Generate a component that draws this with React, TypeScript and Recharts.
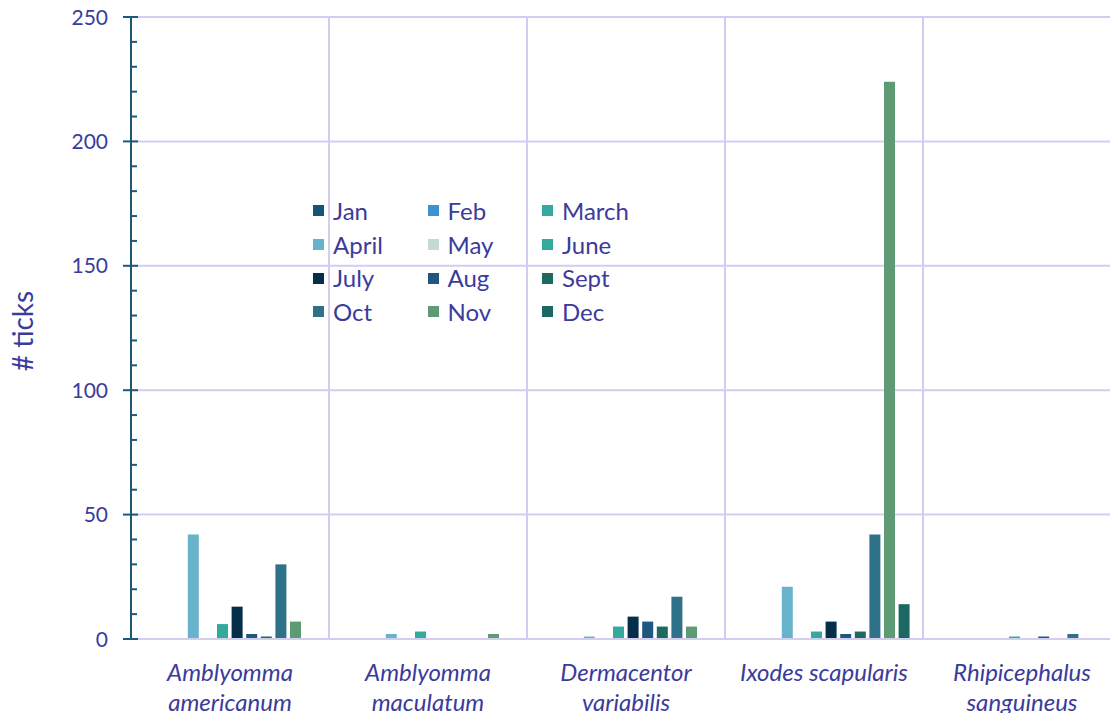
import { Bar, BarChart, CartesianGrid, Legend, XAxis, YAxis } from "recharts"

const species = [
  "Amblyomma americanum",
  "Amblyomma maculatum",
  "Dermacentor variabilis",
  "Ixodes scapularis",
  "Rhipicephalus sanguineus",
]

const months = ["Jan", "Feb", "March", "April", "May", "June", "July", "Aug", "Sept", "Oct", "Nov", "Dec"]

const monthColors = [
  "#145475", "#3a93cf", "#35a99f", "#68b3cb", "#c3dbd0", "#34aa9e",
  "#052f48", "#1f5780", "#1e6a5f", "#2e7189", "#5e9b75", "#1d6862",
]

// counts per species, Jan..Dec
const americanum = [0, 0, 0, 42, 0, 6, 13, 2, 1, 30, 7, 0]
const maculatum = [0, 0, 0, 2, 0, 3, 0, 0, 0, 0, 2, 0]
const variabilis = [0, 0, 0, 1, 0, 5, 9, 7, 5, 17, 5, 0]
const scapularis = [0, 0, 0, 21, 0, 3, 7, 2, 3, 42, 224, 14]
const sanguineus = [0, 0, 0, 0, 0, 1, 0, 1, 0, 2, 0, 0]

const yMax = 250
const yTicks = [0, 10, 20, 30, 40, 50, 60, 70, 80, 90, 100, 110, 120, 130, 140, 150, 160, 170, 180, 190, 200, 210, 220, 230, 240, 250]
const gridValues = [50, 100, 150, 200, 250]

const counts = [americanum, maculatum, variabilis, scapularis, sanguineus]

const data = species.map((name, i) => {
  const row: Record<string, string | number> = { name }
  months.forEach((m, j) => {
    row[m] = counts[i][j]
  })
  return row
})

const textColor = "#3b3b9c"
const axisColor = "#1f5877"
const gridColor = "#d3cdef"
const font = "Lato, 'Open Sans', sans-serif"

const YTick = ({ x, y, payload }: any) => {
  const v = payload.value
  if (v % 50 !== 0) {
    return <line x1={x} x2={x + 6} y1={y} y2={y} stroke={axisColor} strokeWidth={2} />
  }
  return (
    <g>
      <line x1={x - 8} x2={x + 7} y1={y} y2={y} stroke={axisColor} strokeWidth={2} />
      <text x={x - 23} y={y} dy="0.36em" textAnchor="end" fill={textColor} fontSize={21} fontFamily={font}>
        {v}
      </text>
    </g>
  )
}

// short names fit on one line, longer ones wrap at the space
const XTick = ({ x, y, payload }: any) => {
  const label: string = payload.value
  const lines = label.length < 18 ? [label] : label.split(" ")
  return (
    <text x={x} y={y} textAnchor="middle" fill={textColor} fontSize={24} fontStyle="italic" fontFamily={font}>
      {lines.map((l, i) => (
        <tspan key={l} x={x} dy={i === 0 ? 42 : 30}>{l}</tspan>
      ))}
    </text>
  )
}

const YTitle = ({ viewBox }: any) => {
  const cx = viewBox.x + 23
  const cy = viewBox.y + viewBox.height / 2 + 3
  return (
    <text x={cx} y={cy} transform={`rotate(-90, ${cx}, ${cy})`} textAnchor="middle" dy="0.35em"
      fill={textColor} fontSize={28} fontFamily={font}>
      # ticks
    </text>
  )
}

const LegendGrid = ({ payload }: any) => {
  const items = [...(payload || [])].sort((a: any, b: any) => months.indexOf(a.value) - months.indexOf(b.value))
  return (
    <div style={{ display: "grid", gridTemplateColumns: "repeat(3, 114.5px)", fontFamily: font }}>
      {items.map((item: any) => (
        <div key={item.value} style={{ display: "flex", alignItems: "center", height: 33.7 }}>
          <span style={{ width: 11, height: 11, background: item.color, marginRight: 9, flexShrink: 0 }} />
          <span style={{ color: textColor, fontSize: 24, lineHeight: "24px" }}>{item.value}</span>
        </div>
      ))}
    </div>
  )
}

const verticalLines = ({ offset }: any) =>
  species.map((_, i) => offset.left + (i * offset.width) / species.length)

const horizontalLines = ({ offset }: any) =>
  gridValues.map((v) => offset.top + offset.height * (1 - v / yMax))

export default function App() {
  return (
    <div style={{ margin: -8, width: 1118, height: 721, overflow: "hidden" }}>
      <BarChart
        width={1121}
        height={721}
        data={data}
        margin={{ top: 17, right: 0, bottom: 0, left: 0 }}
        barSize={11}
        barGap={3.6}
      >
        <CartesianGrid
          stroke={gridColor}
          strokeWidth={2}
          verticalCoordinatesGenerator={verticalLines}
          horizontalCoordinatesGenerator={horizontalLines}
        />
        <XAxis
          dataKey="name"
          height={82}
          tick={<XTick />}
          tickLine={false}
          tickSize={0}
          tickMargin={0}
          axisLine={{ stroke: gridColor, strokeWidth: 2 }}
          interval={0}
        />
        <YAxis
          width={131}
          domain={[0, yMax]}
          ticks={yTicks}
          interval={0}
          tick={<YTick />}
          tickLine={false}
          tickSize={0}
          tickMargin={0}
          axisLine={{ stroke: axisColor, strokeWidth: 2 }}
          label={<YTitle />}
        />
        <Legend
          layout="vertical"
          align="center"
          verticalAlign="middle"
          content={<LegendGrid />}
          wrapperStyle={{ left: 313, top: 194, width: 350 }}
        />
        {months.map((m, i) => (
          <Bar key={m} dataKey={m} fill={monthColors[i]} isAnimationActive={false} />
        ))}
      </BarChart>
    </div>
  )
}
